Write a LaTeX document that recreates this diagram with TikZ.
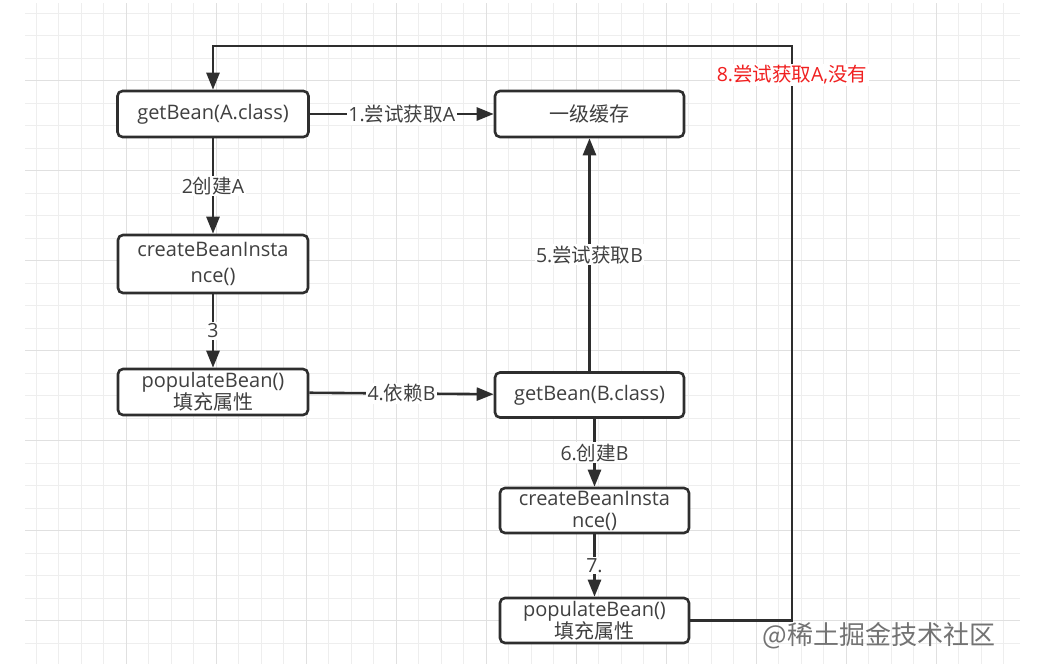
\documentclass[tikz,border=0pt]{standalone}
\usepackage{fontspec}
\setmainfont{Open Sans}
\newfontfamily\zhfont{Noto Sans CJK SC}
\newcommand{\zh}[1]{{\zhfont #1}}
\usetikzlibrary{arrows.meta}
\definecolor{gridminor}{HTML}{EEEEEE}
\definecolor{gridmajor}{HTML}{E0E0E0}
\definecolor{ink}{HTML}{2E2E2E}
\definecolor{txt}{HTML}{404040}
\definecolor{redtxt}{HTML}{F02020}
\begin{document}
\begin{tikzpicture}[x=1pt,y=-1pt,
  box/.style={draw=ink, line width=2.6pt, rounded corners=5pt, fill=white, text=txt,
    font=\fontsize{20}{26}\selectfont, align=center, inner sep=0pt},
  arr/.style={draw=ink, line width=2.6pt, -{Triangle[length=17pt,width=13pt]}},
  lab/.style={fill=white, text=txt, font=\fontsize{19.5}{22}\selectfont, inner sep=1.5pt},
  redlab/.style={fill=white, text=redtxt, font=\fontsize{19.5}{22}\selectfont, inner sep=2pt},
  wm/.style={text=black!55, font=\zhfont\fontsize{26}{30}\selectfont, inner sep=0pt}]
\useasboundingbox (0,0) rectangle (1053,664);
\fill[white] (0,0) rectangle (1053,664);
% grid
\foreach \i in {0,...,43} \draw[gridminor, line width=0.9pt] ({36+22.5*\i},3) -- ({36+22.5*\i},664);
\foreach \j in {0,...,28} \draw[gridminor, line width=0.9pt] (25,{13+22.5*\j}) -- (1020,{13+22.5*\j});
\foreach \i in {1,...,10} \draw[gridmajor, line width=1pt] ({36+90*\i},3) -- ({36+90*\i},664);
\foreach \j in {0,...,6} \draw[gridmajor, line width=1pt] (25,{80.5+90*\j}) -- (1020,{80.5+90*\j});

% nodes
\node[box, minimum width=191pt, minimum height=46pt] (getA) at (213,114) {getBean(A.class)};
\node[box, minimum width=189pt, minimum height=46pt] (cache) at (589.5,114) {\zh{一级缓存}};
\node[box, minimum width=190pt, minimum height=58pt] (createA) at (213,264) {createBeanInsta\\[0pt]nce()};
\node[box, minimum width=190pt, minimum height=46pt, font=\fontsize{20}{22}\selectfont] (popA) at (213,392) {populateBean()\\\zh{填充属性}};
\node[box, minimum width=189pt, minimum height=45pt] (getB) at (589.5,395) {getBean(B.class)};
\node[box, minimum width=189pt, minimum height=45pt, font=\fontsize{20}{22}\selectfont] (createB) at (594.5,510.5) {createBeanInsta\\nce()};
\node[box, minimum width=189pt, minimum height=45pt, font=\fontsize{20}{22}\selectfont] (popB) at (594.5,620.5) {populateBean()\\\zh{填充属性}};

% connectors
\draw[arr] (getA) -- node[lab] {1.\zh{尝试获取}A} (cache);
\draw[arr] (getA) -- node[lab] {2\zh{创建}A} (createA);
\draw[arr] (createA) -- node[lab] {3} (popA);
\draw[arr] (popA) -- node[lab] {4.\zh{依赖}B} (getB);
\draw[arr] (getB) -- node[lab] {5.\zh{尝试获取}B} (cache);
\draw[arr] (getB.south -| createB.north) -- node[lab] {6.\zh{创建}B} (createB.north);
\draw[arr] (createB) -- node[lab] {7.} (popB);

\coordinate (c2) at (792,46);
\coordinate (c3) at (213,46);
\draw[arr] (popB.east) -| (c2) -- (c3) -- (getA.north);
\node[redlab] (l8) at (792,75) {8.\zh{尝试获取}A,\zh{没有}};

% watermark
\node[wm] (wmk) at (879,636) {@稀土掘金技术社区};
\end{tikzpicture}
\end{document}
